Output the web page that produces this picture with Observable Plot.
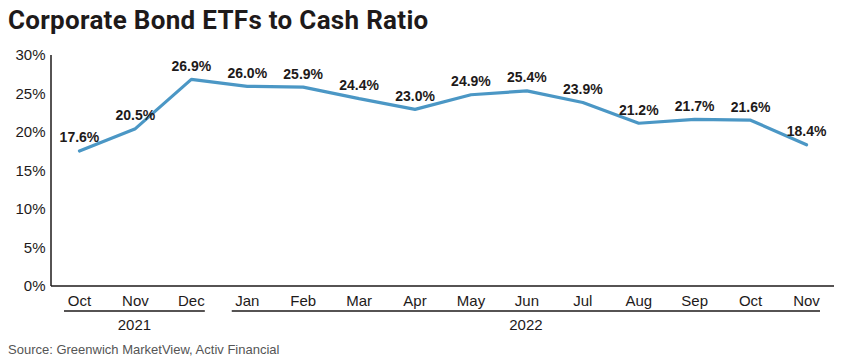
<!DOCTYPE html>
<html>
<head>
<meta charset="utf-8">
<script src="https://cdn.jsdelivr.net/npm/d3@7"></script>
<script src="https://cdn.jsdelivr.net/npm/@observablehq/plot@0.6"></script>
<style>
  html, body { margin: 0; padding: 0; background: #fff; }
  body { width: 844px; height: 360px; overflow: hidden; font-family: "Liberation Sans", Arial, sans-serif; }
  #title { font-family: Roboto, "Liberation Sans", sans-serif; font-weight: 700; font-size: 26px; color: #1e1a1a; height: 40px; line-height: 40px; padding-left: 8px; letter-spacing: 0.3px; }
  #caption { font-size: 13px; color: #555; padding-left: 8px; margin-top: 2px; }
  svg { display: block; }
</style>
</head>
<body>
<div id="title">Corporate Bond ETFs to Cash Ratio</div>
<div id="chart"></div>
<div id="caption">Source: Greenwich MarketView, Activ Financial</div>
<script>
const periods = ["2021-10","2021-11","2021-12","2022-01","2022-02","2022-03","2022-04","2022-05","2022-06","2022-07","2022-08","2022-09","2022-10","2022-11"];
const monthLabels = ["Oct","Nov","Dec","Jan","Feb","Mar","Apr","May","Jun","Jul","Aug","Sep","Oct","Nov"];
const ratios = [17.6, 20.5, 26.9, 26.0, 25.9, 24.4, 23.0, 24.9, 25.4, 23.9, 21.2, 21.7, 21.6, 18.4];
const yTicks = [0, 5, 10, 15, 20, 25, 30];
const years = ["2021", "2022"];

const data = periods.map((p, i) => ({period: p, month: monthLabels[i], value: ratios[i], year: p.slice(0, 4)}));
const monthOf = new Map(periods.map((p, i) => [p, monthLabels[i]]));

function yearGroups(index, scales, values, dims) {
  const svg = d3.create("svg:g");
  const x = scales.x, y = scales.y;
  svg.append("line")
    .attr("x1", dims.marginLeft).attr("x2", dims.marginLeft)
    .attr("y1", y(30)).attr("y2", y(0))
    .attr("stroke", "#1e1a1a").attr("stroke-width", 1.5);
  svg.append("line")
    .attr("x1", dims.marginLeft).attr("x2", dims.width - dims.marginRight)
    .attr("y1", y(0)).attr("y2", y(0))
    .attr("stroke", "#1e1a1a").attr("stroke-width", 1.5);
  const base = y(0);
  for (const yr of years) {
    const ps = periods.filter(p => p.startsWith(yr));
    const x0 = x(ps[0]) - 15;
    const x1 = x(ps[ps.length - 1]) + 14;
    svg.append("line")
      .attr("x1", x0).attr("x2", x1)
      .attr("y1", base + 25).attr("y2", base + 25)
      .attr("stroke", "#1e1a1a").attr("stroke-width", 1.5);
    svg.append("text")
      .attr("x", (x0 + x1) / 2).attr("y", base + 39)
      .attr("dy", "0.35em")
      .attr("text-anchor", "middle")
      .attr("font-size", 15)
      .attr("fill", "#1e1a1a")
      .text(yr);
  }
  return svg.node();
}

const chart = Plot.plot({
  width: 844,
  height: 300,
  marginLeft: 51,
  marginRight: 10,
  marginTop: 15,
  marginBottom: 54,
  style: {fontFamily: "'Liberation Sans', Arial, sans-serif", fontSize: "15px", color: "#1e1a1a", background: "#fff"},
  x: {type: "point", domain: periods, padding: 0.5, round: false, label: null},
  y: {domain: [0, 30], label: null},
  marks: [
    Plot.axisX({tickSize: 0, tickPadding: 9, tickFormat: d => monthOf.get(d), fontSize: 15, label: null}),
    Plot.axisY({ticks: yTicks, tickSize: 0, tickPadding: 6, tickFormat: d => d + "%", fontSize: 15, label: null}),
    Plot.line(data, {x: "period", y: "value", stroke: "#4b97c5", strokeWidth: 3.2, strokeLinejoin: "miter", curve: "linear"}),
    Plot.text(data, {x: "period", y: "value", text: d => d.value.toFixed(1) + "%", dy: -13, fontWeight: "bold", fontSize: 14, fill: "#1e1a1a"}),
    yearGroups
  ]
});
document.getElementById("chart").appendChild(chart);
</script>
</body>
</html>
